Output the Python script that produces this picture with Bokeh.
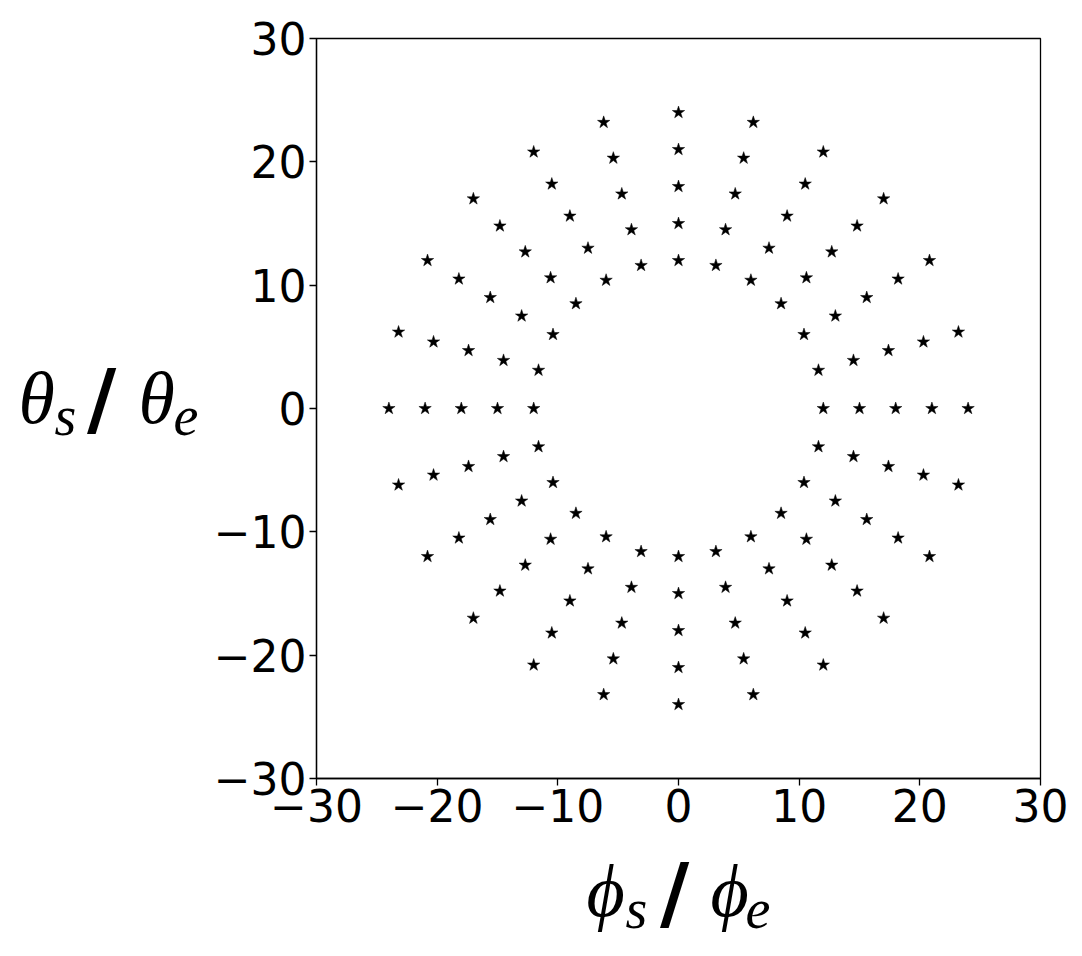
from bokeh.plotting import figure
from bokeh.models import Range1d, FixedTicker
from bokeh.layouts import row, column
from bokeh.core.properties import value
from bokeh.embed import file_html
from bokeh.resources import INLINE

# star positions (phi_s/phi_e, theta_s/theta_e), ring by ring
x_r12 = [12, 11.6, 10.4, 8.5, 6, 3.1, 0, -3.1, -6, -8.5, -10.4, -11.6, -12, -11.6, -10.4, -8.5, -6, -3.1, 0, 3.1, 6, 8.5, 10.4, 11.6]
y_r12 = [0, 3.1, 6, 8.5, 10.4, 11.6, 12, 11.6, 10.4, 8.5, 6, 3.1, 0, -3.1, -6, -8.5, -10.4, -11.6, -12, -11.6, -10.4, -8.5, -6, -3.1]
x_r15 = [15, 14.5, 13, 10.6, 7.5, 3.9, 0, -3.9, -7.5, -10.6, -13, -14.5, -15, -14.5, -13, -10.6, -7.5, -3.9, 0, 3.9, 7.5, 10.6, 13, 14.5]
y_r15 = [0, 3.9, 7.5, 10.6, 13, 14.5, 15, 14.5, 13, 10.6, 7.5, 3.9, 0, -3.9, -7.5, -10.6, -13, -14.5, -15, -14.5, -13, -10.6, -7.5, -3.9]
x_r18 = [18, 17.4, 15.6, 12.7, 9, 4.7, 0, -4.7, -9, -12.7, -15.6, -17.4, -18, -17.4, -15.6, -12.7, -9, -4.7, 0, 4.7, 9, 12.7, 15.6, 17.4]
y_r18 = [0, 4.7, 9, 12.7, 15.6, 17.4, 18, 17.4, 15.6, 12.7, 9, 4.7, 0, -4.7, -9, -12.7, -15.6, -17.4, -18, -17.4, -15.6, -12.7, -9, -4.7]
x_r21 = [21, 20.3, 18.2, 14.8, 10.5, 5.4, 0, -5.4, -10.5, -14.8, -18.2, -20.3, -21, -20.3, -18.2, -14.8, -10.5, -5.4, 0, 5.4, 10.5, 14.8, 18.2, 20.3]
y_r21 = [0, 5.4, 10.5, 14.8, 18.2, 20.3, 21, 20.3, 18.2, 14.8, 10.5, 5.4, 0, -5.4, -10.5, -14.8, -18.2, -20.3, -21, -20.3, -18.2, -14.8, -10.5, -5.4]
x_r24 = [24, 23.2, 20.8, 17, 12, 6.2, 0, -6.2, -12, -17, -20.8, -23.2, -24, -23.2, -20.8, -17, -12, -6.2, 0, 6.2, 12, 17, 20.8, 23.2]
y_r24 = [0, 6.2, 12, 17, 20.8, 23.2, 24, 23.2, 20.8, 17, 12, 6.2, 0, -6.2, -12, -17, -20.8, -23.2, -24, -23.2, -20.8, -17, -12, -6.2]

ticks = [-30, -20, -10, 0, 10, 20, 30]
tick_labels = {-30: "\u221230", -20: "\u221220", -10: "\u221210", 0: "0", 10: "10", 20: "20", 30: "30"}

YLAB_W = 200
MAIN_W = 874
MAIN_H = 848
XLAB_H = 100

p = figure(width=MAIN_W, height=MAIN_H, output_backend="svg", toolbar_location=None,
           x_range=Range1d(-30, 30), y_range=Range1d(-30, 30),
           min_border_left=116, min_border_top=38, min_border_right=34, min_border_bottom=70)
p.xgrid.visible = False
p.ygrid.visible = False
p.outline_line_color = "black"
p.outline_line_width = 1.3
p.outline_line_alpha = 1.0

for ax in (p.xaxis[0], p.yaxis[0]):
    ax.ticker = FixedTicker(ticks=ticks)
    ax.major_label_overrides = tick_labels
    ax.major_label_text_font = "DejaVu Sans"
    ax.major_label_text_font_size = "44px"
    ax.major_label_text_color = "black"
    ax.axis_line_color = "black"
    ax.axis_line_width = 1.3
    ax.major_tick_line_color = "black"
    ax.major_tick_line_width = 1.3
    ax.major_tick_out = 7
    ax.major_tick_in = 0
    ax.minor_tick_line_color = None
p.xaxis[0].major_label_standoff = 3
p.yaxis[0].major_label_standoff = 3

for xs, ys in ((x_r12, y_r12), (x_r15, y_r15), (x_r18, y_r18), (x_r21, y_r21), (x_r24, y_r24)):
    p.scatter(xs, ys, marker="star", size=13, fill_color="black", line_color="black", line_width=0.5)

serif = value("Liberation Serif, DejaVu Serif")
bold_sans = value("DejaVu Sans")


def label_fig(w, h):
    f = figure(width=w, height=h, output_backend="svg", toolbar_location=None,
               x_range=Range1d(0, w), y_range=Range1d(h, 0),
               min_border=0, min_border_left=0, min_border_right=0,
               min_border_top=0, min_border_bottom=0)
    f.axis.visible = False
    f.grid.visible = False
    f.outline_line_color = None
    return f


def put(f, parts):
    for txt, x, y, size, font, style, align in parts:
        f.text(x=[x], y=[y], text=[txt], text_font=font, text_font_style=style,
               text_font_size=size, text_align=align, text_baseline="alphabetic",
               text_color="black")


ylab = label_fig(YLAB_W, MAIN_H)
put(ylab, [
    ("\u03b8", 18, 412, "74px", serif, "italic", "left"),
    ("s", 54, 433, "56px", serif, "italic", "left"),
    ("/", 101, 414, "80px", bold_sans, "bold", "center"),
    ("\u03b8", 138, 412, "74px", serif, "italic", "left"),
    ("e", 173, 433, "56px", serif, "italic", "left"),
])

xlab = label_fig(YLAB_W + MAIN_W, XLAB_H)
put(xlab, [
    ("\u03d5", 586, 42, "74px", serif, "italic", "left"),
    ("s", 625, 60, "56px", serif, "italic", "left"),
    ("/", 674, 45, "80px", bold_sans, "bold", "center"),
    ("\u03d5", 710, 42, "74px", serif, "italic", "left"),
    ("e", 745, 60, "56px", serif, "italic", "left"),
])

layout = column(row(ylab, p, spacing=0), xlab, spacing=0)
open("out.html", "w").write(file_html(layout, INLINE))
